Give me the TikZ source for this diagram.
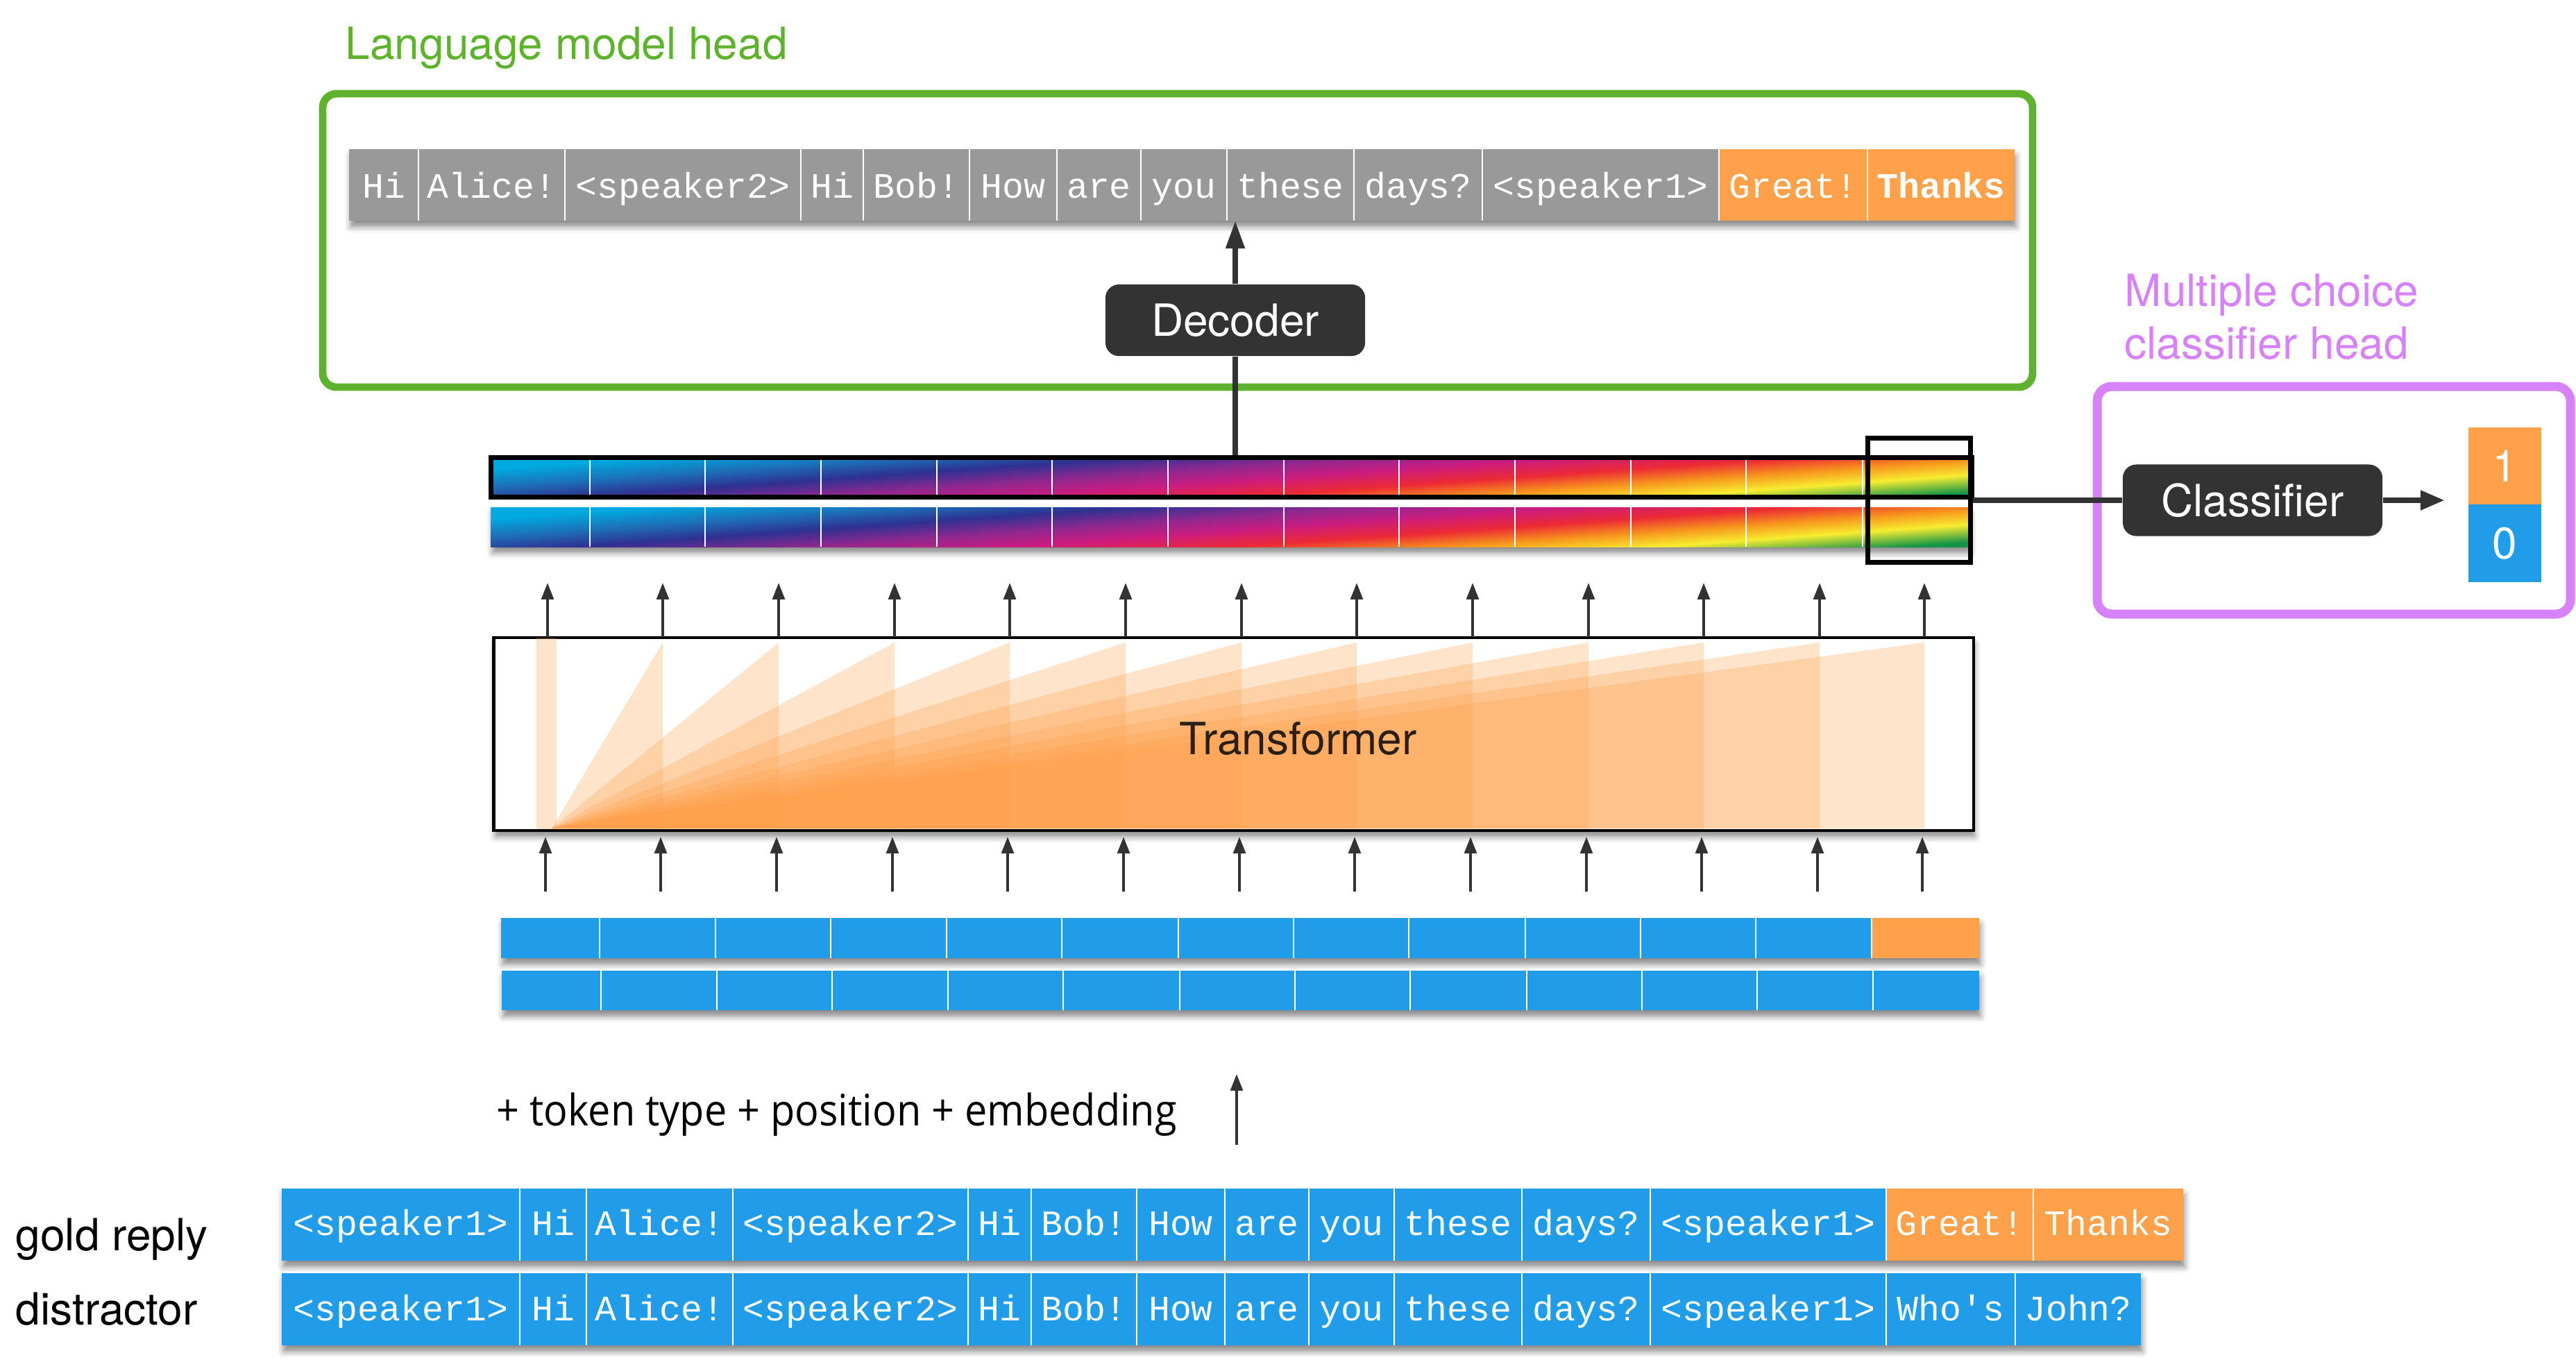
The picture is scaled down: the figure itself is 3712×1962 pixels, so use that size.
\documentclass[tikz,border=0pt]{standalone}
\usepackage{fontspec}
\setmainfont{TeX Gyre Heros}
\newfontfamily\monofont{Liberation Mono}
\newfontfamily\embfont{Open Sans}[FakeStretch=0.92]
\usetikzlibrary{arrows.meta,shadows.blur}

\definecolor{lmgreen}{HTML}{5EB22E}
\definecolor{mcviolet}{HTML}{D682FB}
\definecolor{tokorange}{HTML}{FFA04A}
\definecolor{tokblue}{HTML}{209CE8}
\definecolor{tokgray}{HTML}{999999}
\definecolor{boxdark}{HTML}{333333}
\definecolor{textdark}{HTML}{2A1E16}
\definecolor{gcyan}{HTML}{00A9E0}
\definecolor{gblue}{HTML}{1B75BB}
\definecolor{gindigo}{HTML}{2E3192}
\definecolor{gpurple}{HTML}{8E288F}
\definecolor{gmagenta}{HTML}{CB1C7F}
\definecolor{gred}{HTML}{EC2A35}
\definecolor{gorange}{HTML}{F7941D}
\definecolor{gyellow}{HTML}{F8EC31}
\definecolor{ggreen}{HTML}{139547}

\pgfdeclareverticalshading{rainbowbar}{100bp}{color(0bp)=(gcyan); color(25bp)=(gcyan); color(27.5bp)=(gcyan); color(33.5bp)=(gblue); color(40bp)=(gindigo); color(46bp)=(gpurple); color(51.5bp)=(gmagenta); color(57.5bp)=(gred); color(63bp)=(gorange); color(68.5bp)=(gyellow); color(75bp)=(ggreen); color(100bp)=(ggreen)}

\tikzset{
  tok/.style={font=\monofont\fontsize{14.65}{16}\selectfont, text=white, inner sep=0pt, anchor=base},
  lbl/.style={font=\fontsize{18.2}{21.6}\selectfont, inner sep=0pt},
  blackbox/.style={fill=boxdark, rounded corners=5.5pt, text=white, font=\fontsize{18.2}{21.6}\selectfont, minimum width=3.74cm, minimum height=1.03cm, inner sep=0pt},
  colarrow/.style={draw=boxdark, line width=1.1pt, -{Triangle[length=6.8pt,width=5pt]}},
  shad/.style={blur shadow={shadow xshift=0.6pt, shadow yshift=-2.6pt, shadow blur radius=2.4pt, shadow opacity=45}},
  sepline/.style={draw=white, line width=0.8pt},
  rainbow/.style={shade, shading=rainbowbar, shading angle=184.1},
  fan/.style={fill=tokorange, fill opacity=0.28},
}

\begin{document}
\begin{tikzpicture}[x=0.01cm, y=-0.01cm]
\useasboundingbox (0,0) rectangle (3712,1962);

% ---------------- Language model head ----------------
\draw[lmgreen, line width=3.1pt, rounded corners=5.7pt] (465,135) rectangle (2929,558);
\node[lbl, text=lmgreen, anchor=base west] (lmlabel) at (497,85) {Language model head};

\path[shad, fill=tokgray] (503,215) rectangle (2903,318);
\fill[tokorange] (2477,215) rectangle (2903,318);
\foreach \l/\r/\t [count=\i] in {503/603/Hi, 603/814/Alice!, 814/1154/{<speaker2>}, 1154/1244/Hi, 1244/1397/Bob!, 1397/1523/How, 1523/1644/are, 1644/1768/you, 1768/1951/these, 1951/2136/days?, 2136/2477/{<speaker1>}, 2477/2691/Great!}{
  \node[tok] (lm\i) at ({(\l+\r)/2},285) {\t};
}
\node[tok, font=\monofont\bfseries\fontsize{14.65}{16}\selectfont] (lm13) at (2797,285) {Thanks};
\foreach \x in {603,814,1154,1244,1397,1523,1644,1768,1951,2136,2477,2691}{
  \draw[sepline] (\x,215) -- (\x,318);
}

\node[blackbox] (dec) at (1780,461.5) {Decoder};
\coordinate (decTip) at (1780,318);
\coordinate (barAtop) at (1780,656);

% ---------------- hidden-state bars ----------------
\node[rainbow, draw=black, line width=2pt, minimum width=21.32cm, minimum height=0.57cm, inner sep=0pt] (barA) at (1774.5,688) {};
\node[shad, rainbow, minimum width=21.29cm, minimum height=0.57cm, inner sep=0pt] (barB) at (1772.5,759.5) {};
\foreach \x in {850,1016,1183,1350,1516,1683,1850,2016,2183,2350,2516,2684}{
  \draw[sepline] (\x,663) -- (\x,713);
  \draw[sepline] (\x,731) -- (\x,788);
}
\node[draw=black, line width=2pt, minimum width=1.48cm, minimum height=1.79cm, inner sep=0pt] (sel) at (2765.5,721) {};

\draw[boxdark, line width=2.2pt] (barAtop) -- (dec.south);
\draw[boxdark, line width=2.2pt, -{Triangle[length=11.4pt,width=7.4pt]}] (dec.north) -- (decTip);

% ---------------- Multiple choice classifier head ----------------
\draw[mcviolet, line width=3.7pt, rounded corners=6pt] (3022,557) rectangle (3704,885);
\node[lbl, text=mcviolet, anchor=north west, align=left] (mclabel) at (3061,394) {Multiple choice\\classifier head};
\node[blackbox] (cls) at (3246,721) {Classifier};
\node[fill=tokorange, text=white, font=\fontsize{18.2}{21.6}\selectfont, minimum width=1.05cm, minimum height=1.11cm, inner sep=0pt] (out1) at (3609.5,671.5) {1};
\node[fill=tokblue, text=white, font=\fontsize{18.2}{21.6}\selectfont, minimum width=1.05cm, minimum height=1.12cm, inner sep=0pt] (out0) at (3609.5,783) {0};
\coordinate (clsTip) at (3523,721);
\draw[boxdark, line width=2.3pt] (sel.east) -- (cls.west);
\draw[boxdark, line width=2.4pt, -{Triangle[length=10pt,width=7.6pt]}] (cls.east) -- (clsTip);

% ---------------- Transformer ----------------
\node[shad, fill=white, draw=black, line width=1.2pt, minimum width=21.31cm, minimum height=2.78cm, inner sep=0pt] (trans) at (1777.5,1058) {};
\fill[fan] (773,919) rectangle (802,1195);
\foreach \x in {955,1122,1289,1455,1622,1789,1955,2122,2289,2455,2622,2773}{
  \fill[fan] (795,1194) -- (\x,926) -- (\x,1194) -- cycle;
}
\node[lbl, anchor=base west, text=textdark] (translabel) at (1699,1087) {Transformer};

\foreach \x [count=\i] in {789,955,1122,1289,1455,1622,1789,1955,2122,2289,2455,2622,2773}{
  \coordinate (up\i) at (\x,840);
  \coordinate (tt\i) at (\x,918);
  \coordinate (tb\i) at ({\x-3},1206);
  \coordinate (emb\i) at ({\x-3},1285);
  \draw[colarrow] (tt\i) -- (up\i);
  \draw[colarrow] (emb\i) -- (tb\i);
}

% ---------------- input embedding bars ----------------
\path[shad, fill=tokblue] (722,1323) rectangle (2852,1381);
\fill[tokorange] (2697,1323) rectangle (2852,1381);
\path[shad, fill=tokblue] (723,1399) rectangle (2852,1456);
\foreach \x in {864,1031,1197,1364,1530,1698,1864,2030,2198,2364,2530,2697}{
  \draw[sepline] (\x,1323) -- (\x,1381);
  \draw[sepline] ({\x+2},1399) -- ({\x+2},1456);
}

\node[font=\embfont\fontsize{17.8}{20}\selectfont, anchor=base west, inner sep=0pt] (embtext) at (715,1622) {+ token type + position + embedding};
\coordinate (embBase) at (1782,1650);
\coordinate (embTip) at (1782,1548);
\draw[colarrow] (embBase) -- (embTip);

% ---------------- input sequences ----------------
\node[lbl, anchor=base west] (gold) at (22,1802) {gold reply};
\node[lbl, anchor=base west] (distr) at (22,1909) {distractor};

\path[shad, fill=tokblue] (406,1713) rectangle (3146,1817);
\fill[tokorange] (2718,1713) rectangle (3146,1817);
\path[shad, fill=tokblue] (406,1835) rectangle (3085,1939);

\foreach \l/\r/\t [count=\i] in {406/749/{<speaker1>}, 749/845/Hi, 845/1056/Alice!, 1056/1395/{<speaker2>}, 1395/1486/Hi, 1486/1638/Bob!, 1638/1765/How, 1765/1886/are, 1886/2009/you, 2009/2193/these, 2193/2378/days?, 2378/2718/{<speaker1>}, 2718/2930/Great!, 2930/3146/Thanks}{
  \node[tok] (g\i) at ({(\l+\r)/2},1780) {\t};
}
\foreach \l/\r/\t [count=\i] in {406/749/{<speaker1>}, 749/845/Hi, 845/1056/Alice!, 1056/1395/{<speaker2>}, 1395/1486/Hi, 1486/1638/Bob!, 1638/1765/How, 1765/1886/are, 1886/2009/you, 2009/2193/these, 2193/2378/days?, 2378/2718/{<speaker1>}, 2718/2904/{Who\char39 s}, 2904/3085/John?}{
  \node[tok] (d\i) at ({(\l+\r)/2},1903) {\t};
}
\foreach \x in {749,845,1056,1395,1486,1638,1765,1886,2009,2193,2378,2718,2930}{
  \draw[sepline] (\x,1713) -- (\x,1817);
}
\foreach \x in {749,845,1056,1395,1486,1638,1765,1886,2009,2193,2378,2718,2904}{
  \draw[sepline] (\x,1835) -- (\x,1939);
}
\end{tikzpicture}
\end{document}
